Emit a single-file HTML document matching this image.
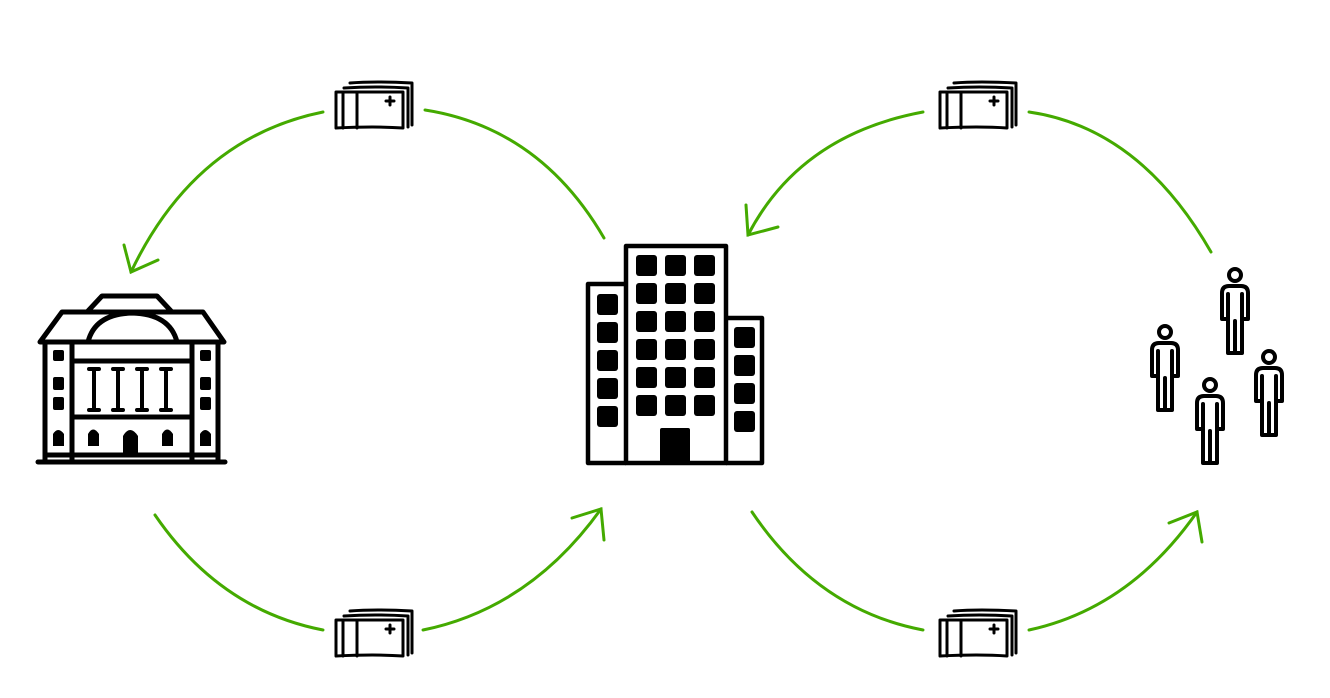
<!DOCTYPE html>
<html><head><meta charset="utf-8"><style>html,body{margin:0;padding:0;background:#fff}svg{display:block}</style></head>
<body>
<svg width="1330" height="698" viewBox="0 0 1330 698" xmlns="http://www.w3.org/2000/svg">
<defs>
<g id="money" fill="none" stroke="#000" stroke-width="3" stroke-linecap="round" stroke-linejoin="round">
  <path d="M15 3 Q40 1 77 3 L77 45"/>
  <path d="M9 8 Q40 6 73 8 L73 47"/>
  <path d="M1 12 L68 12 L68 48 Q40 46 1 48 Z"/>
  <line x1="8" y1="12" x2="8" y2="48"/>
  <line x1="22" y1="12" x2="22" y2="48"/>
  <path d="M55 17 V25 M51 21 H59"/>
</g>
<g id="person" fill="none" stroke="#000" stroke-width="4" stroke-linecap="round" stroke-linejoin="round">
  <circle cx="0" cy="0" r="6"/>
  <path d="M-7 44 H-13 V18 Q-13 11 -6 11 H6 Q13 11 13 18 V44 H7"/>
  <path d="M-7 19 V78 H7 V19"/>
  <line x1="0" y1="46" x2="0" y2="78"/>
</g>
</defs>

<g fill="none" stroke="#44aa00" stroke-width="3" stroke-linecap="round">
  <path d="M604 238 Q540 128 425 110"/>
  <path d="M323 112 Q195 138 131 272"/>
  <path d="M124 245 L131 272 L158 260"/>
  <path d="M155 515 Q220 610 323 630"/>
  <path d="M423 630 Q530 608 601 509"/>
  <path d="M572 518 L601 509 L604 540"/>
  <path d="M1211 252 Q1140 128 1029 112"/>
  <path d="M923 112 Q800 135 748 235"/>
  <path d="M746 205 L748 235 L778 227"/>
  <path d="M752 512 Q818 610 923 630"/>
  <path d="M1029 630 Q1130 608 1197 512"/>
  <path d="M1169 523 L1197 512 L1202 542"/>
</g>

<use href="#money" x="335" y="80"/>
<use href="#money" x="939" y="80"/>
<use href="#money" x="335" y="608"/>
<use href="#money" x="939" y="608"/>

<!-- bank -->
<g fill="none" stroke="#000" stroke-width="5" stroke-linecap="round" stroke-linejoin="round">
  <path d="M88 311 L102 296 H157 L171 311"/>
  <path d="M40 342 L62 312 H203 L224 342 Z"/>
  <path d="M88 342 Q95 314 132 313 Q170 314 177 342"/>
  <line x1="45" y1="342" x2="45" y2="462"/>
  <line x1="72" y1="342" x2="72" y2="462"/>
  <line x1="192" y1="342" x2="192" y2="462"/>
  <line x1="218" y1="342" x2="218" y2="462"/>
  <line x1="72" y1="361" x2="192" y2="361"/>
  <line x1="72" y1="417" x2="192" y2="417"/>
  <line x1="45" y1="455" x2="218" y2="455"/>
  <line x1="38" y1="462" x2="225" y2="462"/>
  <g stroke-width="4">
  <path d="M89 369 H99 M94 369 V410 M89 410 H99"/>
  <path d="M113 369 H123 M118 369 V410 M113 410 H123"/>
  <path d="M137 369 H147 M142 369 V410 M137 410 H147"/>
  <path d="M161 369 H171 M166 369 V410 M161 410 H171"/>
  </g>
</g>
<g fill="#000">
  <rect x="53" y="350" width="11" height="11" rx="2"/>
  <rect x="53" y="377" width="11" height="13" rx="2"/>
  <rect x="53" y="397" width="11" height="13" rx="2"/>
  <rect x="200" y="350" width="11" height="11" rx="2"/>
  <rect x="200" y="377" width="11" height="13" rx="2"/>
  <rect x="200" y="397" width="11" height="13" rx="2"/>
  <path d="M53 446 V434 Q58 426 64 434 V446 Z"/>
  <path d="M200 446 V434 Q205 426 211 434 V446 Z"/>
  <path d="M88 446 V434 Q93 425 99 434 V446 Z"/>
  <path d="M162 446 V434 Q167 425 173 434 V446 Z"/>
  <path d="M123 455 V436 Q130 424 138 436 V455 Z"/>
</g>

<!-- office -->
<g fill="none" stroke="#000" stroke-width="4.5" stroke-linejoin="round">
  <rect x="626" y="246" width="100" height="217"/>
  <path d="M626 284 H588 V463 H626"/>
  <path d="M726 318 H762 V463 H726"/>
</g>
<g fill="#000">
  <g id="row"><rect x="636" y="255" width="21" height="21" rx="3"/><rect x="665" y="255" width="21" height="21" rx="3"/><rect x="694" y="255" width="21" height="21" rx="3"/></g>
  <use href="#row" y="28"/><use href="#row" y="56"/><use href="#row" y="84"/><use href="#row" y="112"/><use href="#row" y="140"/>
  <rect x="597" y="294" width="21" height="21" rx="3"/>
  <rect x="597" y="322" width="21" height="21" rx="3"/>
  <rect x="597" y="350" width="21" height="21" rx="3"/>
  <rect x="597" y="378" width="21" height="21" rx="3"/>
  <rect x="597" y="406" width="21" height="21" rx="3"/>
  <rect x="734" y="327" width="21" height="21" rx="3"/>
  <rect x="734" y="355" width="21" height="21" rx="3"/>
  <rect x="734" y="383" width="21" height="21" rx="3"/>
  <rect x="734" y="411" width="21" height="21" rx="3"/>
  <rect x="660" y="428" width="30" height="35" rx="2"/>
</g>

<use href="#person" x="1235" y="275"/>
<use href="#person" x="1165" y="332"/>
<use href="#person" x="1210" y="385"/>
<use href="#person" x="1269" y="357"/>
</svg>
</body></html>
